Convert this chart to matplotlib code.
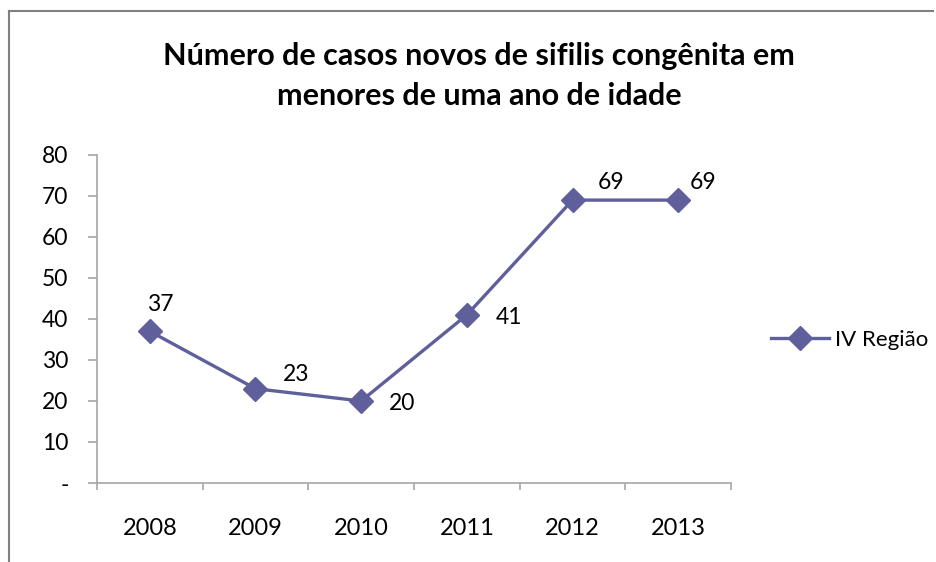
import matplotlib.pyplot as plt
from matplotlib.lines import Line2D

anos = ["2008", "2009", "2010", "2011", "2012", "2013"]
casos = [37, 23, 20, 41, 69, 69]
yticks_vals = [0, 10, 20, 30, 40, 50, 60, 70, 80]
yticks_labels = ["-", "10", "20", "30", "40", "50", "60", "70", "80"]
serie = "IV Região"
titulo = "Número de casos novos de sifilis congênita em\nmenores de uma ano de idade"

# deslocamento dos rotulos (pixels, y para cima)
offsets = [(10, 27), (41, 14), (41, -3), (42, -3), (39, 18), (25, 18)]

cor = "#5f5f9c"
cinza = "#a6a6a6"

plt.rcParams['font.family'] = ['Lato', 'DejaVu Sans']

fig = plt.figure(figsize=(9.37, 5.62), dpi=100)
ax = fig.add_axes([97 / 937, 1 - 483 / 562, (731 - 97) / 937, (483 - 155) / 562])

x = list(range(len(anos)))
ax.plot(x, casos, color=cor, lw=2.4, marker='D', markersize=12, label=serie)

for xi, v, off in zip(x, casos, offsets):
    ax.annotate(str(v), (xi, v), xytext=(off[0] * 0.72, off[1] * 0.72), textcoords='offset points',
                ha='center', va='center', fontsize=16.5)

ax.set_xlim(-0.5, len(anos) - 0.5)
ax.set_ylim(0, 80)
ax.set_yticks(yticks_vals)
ax.set_yticklabels(yticks_labels, fontsize=16.5)
ax.set_xticks(x)
ax.set_xticklabels(anos, fontsize=17)
ax.set_xticks([i - 0.5 for i in range(len(anos) + 1)], minor=True)
ax.tick_params(axis='x', which='major', length=0, pad=25)
ax.tick_params(axis='x', which='minor', length=5, color=cinza, width=1.2)
ax.tick_params(axis='y', length=6.5, color=cinza, width=1.2, pad=14)

for s in ['top', 'right']:
    ax.spines[s].set_visible(False)
for s in ['left', 'bottom']:
    ax.spines[s].set_color(cinza)
    ax.spines[s].set_linewidth(1.2)

fig.text(479 / 937, 1 - 76 / 562, titulo, ha='center', va='center', fontsize=22,
         fontweight='bold', linespacing=1.55)

leg = fig.legend(handles=[Line2D([0], [0], color=cor, lw=2.4, marker='D', markersize=12)],
                 labels=[serie], loc='center left', bbox_to_anchor=(751 / 937, 1 - 340 / 562),
                 frameon=False, fontsize=16, handlelength=2.6, handletextpad=0.3)

# moldura parcial do grafico
fig.add_artist(Line2D([9 / 937, 9 / 937], [0, 1 - 11 / 562], color='#808080', lw=1.5))
fig.add_artist(Line2D([9 / 937, 933 / 937], [1 - 11 / 562, 1 - 11 / 562], color='#808080', lw=1.5))

plt.savefig("out.png", dpi=100)
plt.close()
